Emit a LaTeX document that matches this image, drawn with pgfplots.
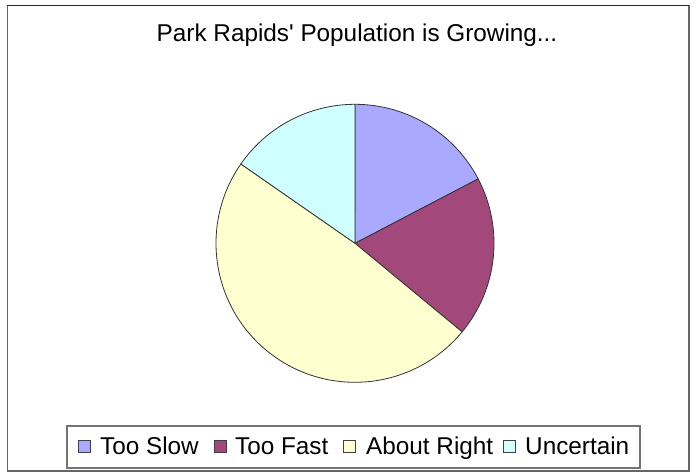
\documentclass[border=0pt]{standalone}
\usepackage{pgfplots}
\usepackage{pgfplotstable}
\pgfplotsset{compat=1.18}
\usepackage{fontspec}
\setmainfont{Liberation Sans}[Ligatures=TeXOff]
\definecolor{cslow}{HTML}{A9A9FF}
\definecolor{cfast}{HTML}{A3487A}
\definecolor{cright}{HTML}{FFFFCF}
\definecolor{cunc}{HTML}{CFFFFF}
\pgfplotstableread{
label value
Slow 26
Fast 28
Right 73
Uncertain 23
}\piedata
\begin{document}
\begin{tikzpicture}
\pgfplotstablegetelem{0}{value}\of\piedata \let\va\pgfplotsretval
\pgfplotstablegetelem{1}{value}\of\piedata \let\vb\pgfplotsretval
\pgfplotstablegetelem{2}{value}\of\piedata \let\vc\pgfplotsretval
\pgfplotstablegetelem{3}{value}\of\piedata \let\vd\pgfplotsretval
\pgfmathsetmacro\total{\va+\vb+\vc+\vd}
\pgfmathsetmacro\aA{90-\va/\total*360}
\pgfmathsetmacro\aB{\aA-\vb/\total*360}
\pgfmathsetmacro\aC{\aB-\vc/\total*360}
\pgfmathsetmacro\aD{\aC-\vd/\total*360}
\begin{axis}[
  scale only axis, width=696bp, height=474bp,
  xmin=0, xmax=696, ymin=0, ymax=474,
  hide axis, clip=false,
  font=\fontsize{24.4}{29}\selectfont,
]
\path (axis cs:0,0) rectangle (axis cs:696,474);
% chart frame
\draw[black!60, line width=1.5bp] (axis cs:7.5,468.5) rectangle (axis cs:689,3);
\draw[black!85, line width=1bp] (axis cs:7,468.5) -- (axis cs:689,468.5);
% title
\node[anchor=base, inner sep=0] at (axis cs:357,432) {Park Rapids' Population is Growing...};
% pie
\filldraw[fill=cslow, draw=black!80, line width=0.8bp] (axis cs:355,230.7) -- ([shift={(90:139bp)}]axis cs:355,230.7) arc[start angle=90, end angle=\aA, radius=139bp] -- cycle;
\filldraw[fill=cfast, draw=black!80, line width=0.8bp] (axis cs:355,230.7) -- ([shift={(\aA:139bp)}]axis cs:355,230.7) arc[start angle=\aA, end angle=\aB, radius=139bp] -- cycle;
\filldraw[fill=cright, draw=black!80, line width=0.8bp] (axis cs:355,230.7) -- ([shift={(\aB:139bp)}]axis cs:355,230.7) arc[start angle=\aB, end angle=\aC, radius=139bp] -- cycle;
\filldraw[fill=cunc, draw=black!80, line width=0.8bp] (axis cs:355,230.7) -- ([shift={(\aC:139bp)}]axis cs:355,230.7) arc[start angle=\aC, end angle=\aD, radius=139bp] -- cycle;
% legend
\draw[black!55, line width=1.2bp] (axis cs:67,6) rectangle (axis cs:640,48);
\filldraw[fill=cslow, draw=black!75, line width=0.8bp] (axis cs:78,22) rectangle (axis cs:90,34);
\node[anchor=base west, inner sep=0] at (axis cs:100,19.7) {Too Slow};
\filldraw[fill=cfast, draw=black!75, line width=0.8bp] (axis cs:214,22) rectangle (axis cs:226,34);
\node[anchor=base west, inner sep=0] at (axis cs:235,19.7) {Too Fast};
\filldraw[fill=cright, draw=black!75, line width=0.8bp] (axis cs:343,22) rectangle (axis cs:355,34);
\node[anchor=base west, inner sep=0] at (axis cs:366,19.7) {About Right};
\filldraw[fill=cunc, draw=black!75, line width=0.8bp] (axis cs:503,22) rectangle (axis cs:515,34);
\node[anchor=base west, inner sep=0] at (axis cs:525,19.7) {Uncertain};
\end{axis}
\end{tikzpicture}
\end{document}
